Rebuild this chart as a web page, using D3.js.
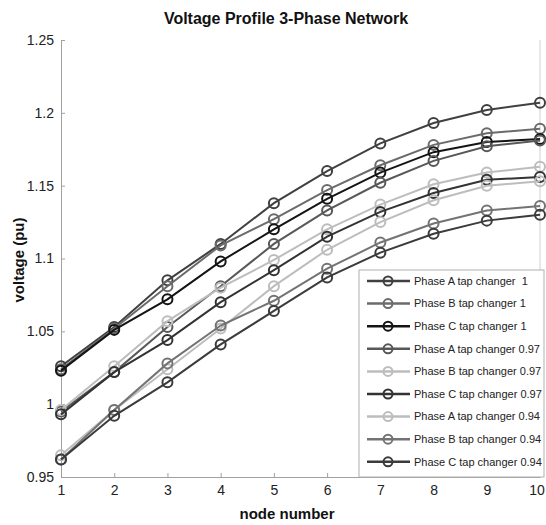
<!DOCTYPE html>
<html>
<head>
<meta charset="utf-8">
<script src="https://cdn.jsdelivr.net/npm/d3@7"></script>
<style>
  body { margin: 0; background: #fff; }
  svg { font-family: "Liberation Sans", Arial, sans-serif; }
</style>
</head>
<body>
<svg width="546" height="525"></svg>
<script>
// node numbers along the feeder
var nodes = [1, 2, 3, 4, 5, 6, 7, 8, 9, 10];

// voltage (pu) per node
var phaseA_tap1   = [1.026, 1.053, 1.085, 1.110, 1.138, 1.160, 1.179, 1.193, 1.202, 1.207];
var phaseB_tap1   = [1.024, 1.052, 1.081, 1.109, 1.127, 1.147, 1.164, 1.178, 1.186, 1.189];
var phaseC_tap1   = [1.023, 1.051, 1.072, 1.098, 1.120, 1.141, 1.159, 1.173, 1.180, 1.182];
var phaseA_tap097 = [0.995, 1.022, 1.053, 1.081, 1.110, 1.133, 1.152, 1.167, 1.177, 1.181];
var phaseB_tap097 = [0.996, 1.026, 1.057, 1.080, 1.099, 1.120, 1.137, 1.151, 1.159, 1.163];
var phaseC_tap097 = [0.993, 1.022, 1.044, 1.070, 1.092, 1.115, 1.132, 1.145, 1.154, 1.156];
var phaseA_tap094 = [0.965, 0.996, 1.024, 1.052, 1.081, 1.106, 1.125, 1.140, 1.150, 1.153];
var phaseB_tap094 = [0.962, 0.996, 1.028, 1.054, 1.071, 1.093, 1.111, 1.124, 1.133, 1.136];
var phaseC_tap094 = [0.962, 0.992, 1.015, 1.041, 1.064, 1.087, 1.104, 1.117, 1.126, 1.130];

var seriesNames = [
  'Phase A tap changer  1', 'Phase B tap changer 1', 'Phase C tap changer 1',
  'Phase A tap changer 0.97', 'Phase B tap changer 0.97', 'Phase C tap changer 0.97',
  'Phase A tap changer 0.94', 'Phase B tap changer 0.94', 'Phase C tap changer 0.94'
];
var seriesValues = [phaseA_tap1, phaseB_tap1, phaseC_tap1,
  phaseA_tap097, phaseB_tap097, phaseC_tap097,
  phaseA_tap094, phaseB_tap094, phaseC_tap094];

var yTicks = [0.95, 1, 1.05, 1.1, 1.15, 1.2, 1.25];

var colors = ['#404040', '#6b6b6b', '#141414', '#585858', '#bdbdbd', '#333333', '#bdbdbd', '#737373', '#3b3b3b'];

var svg = d3.select('svg');

var plotLeft = 61, plotRight = 540, plotTop = 40, plotBottom = 477;

var xScale = d3.scaleLinear().domain([1, 10]).range([plotLeft, plotRight]);
var yScale = d3.scaleLinear().domain([0.95, 1.25]).range([plotBottom, plotTop]);

/**
 * Axes (ticks point inward, MATLAB style)
 */
var xAxis = d3.axisBottom(xScale).tickValues(nodes).tickSize(-4).tickPadding(8).tickFormat(d3.format('d'));
var yAxis = d3.axisLeft(yScale).tickValues(yTicks).tickSize(-4).tickPadding(7).tickFormat(function(d){ return String(d); });

var gx = svg.append('g')
  .attr('transform', 'translate(0,' + plotBottom + ')')
  .call(xAxis);
var gy = svg.append('g')
  .attr('transform', 'translate(' + plotLeft + ',0)')
  .call(yAxis);

[gx, gy].forEach(function(g){
  g.select('.domain').attr('stroke', '#a0a0a0');
  g.selectAll('.tick line').attr('stroke', '#a0a0a0');
  g.selectAll('.tick text').attr('fill', '#222').style('font-size', '14px');
});
// keep the last node label inside the picture
gx.selectAll('.tick text').filter(function(d){ return d === 10; }).attr('dx', '-0.25em');

// right border of the axes box
svg.append('line')
  .attr('x1', plotRight).attr('x2', plotRight)
  .attr('y1', plotTop).attr('y2', plotBottom)
  .attr('stroke', '#d0d0d0');

/**
 * Lines + open circle markers
 */
var line = d3.line()
  .x(function(d, i){ return xScale(nodes[i]); })
  .y(function(d){ return yScale(d); });

var series = svg.selectAll('.series')
  .data(seriesValues)
  .enter()
  .append('g')
  .attr('class', 'series');

series.append('path')
  .attr('d', line)
  .attr('fill', 'none')
  .attr('stroke', function(d, i){ return colors[i]; })
  .attr('stroke-width', 2);

series.selectAll('circle')
  .data(function(d, i){ return d.map(function(v){ return {v: v, c: colors[i]}; }); })
  .enter()
  .append('circle')
  .attr('cx', function(d, i){ return xScale(nodes[i]); })
  .attr('cy', function(d){ return yScale(d.v); })
  .attr('r', 5)
  .attr('fill', 'none')
  .attr('stroke', function(d){ return d.c; })
  .attr('stroke-width', 2);

/**
 * Legend
 */
var legend = svg.append('g').attr('transform', 'translate(359,270)');
legend.append('rect')
  .attr('width', 185).attr('height', 207)
  .attr('fill', '#fff')
  .attr('stroke', '#b0b0b0');

var rows = legend.selectAll('.row')
  .data(seriesNames)
  .enter()
  .append('g')
  .attr('transform', function(d, i){ return 'translate(0,' + (11 + i * 22.6) + ')'; });

rows.append('line')
  .attr('x1', 8).attr('x2', 51)
  .attr('stroke', function(d, i){ return colors[i]; })
  .attr('stroke-width', 2.5);
rows.append('circle')
  .attr('cx', 29).attr('r', 4.5)
  .attr('fill', 'none')
  .attr('stroke', function(d, i){ return colors[i]; })
  .attr('stroke-width', 2);
rows.append('text')
  .attr('x', 55).attr('dy', '0.35em')
  .style('font-size', '11px')
  .attr('fill', '#222')
  .attr('xml:space', 'preserve')
  .style('white-space', 'pre')
  .text(function(d){ return d; });

/**
 * Labels
 */
svg.append('text')
  .attr('x', 286).attr('y', 24)
  .attr('text-anchor', 'middle')
  .style('font-size', '16px').style('font-weight', 'bold')
  .attr('fill', '#111')
  .text('Voltage Profile 3-Phase Network');

svg.append('text')
  .attr('x', 287).attr('y', 519)
  .attr('text-anchor', 'middle')
  .style('font-size', '15px').style('font-weight', 'bold')
  .attr('fill', '#111')
  .text('node number');

svg.append('text')
  .attr('transform', 'translate(24,260) rotate(-90)')
  .attr('text-anchor', 'middle')
  .style('font-size', '15px').style('font-weight', 'bold')
  .attr('fill', '#111')
  .text('voltage (pu)');
</script>
</body>
</html>
